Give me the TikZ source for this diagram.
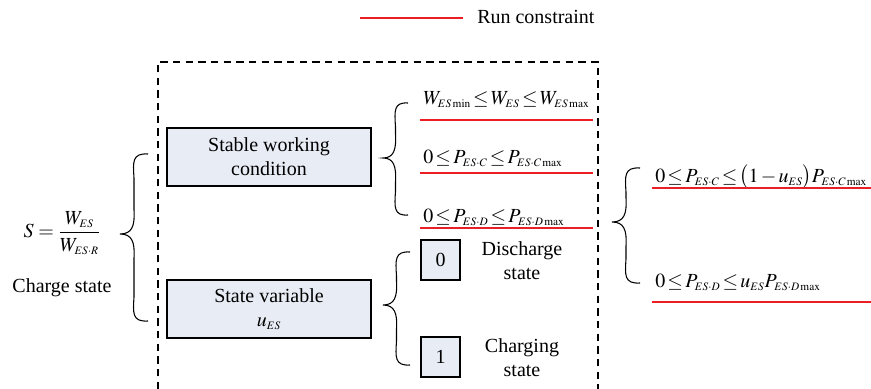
\documentclass[tikz,border=0pt]{standalone}
\usepackage{amsmath}
\usepackage{mathptmx}
\usepackage[no-math]{fontspec}
\setmainfont{Liberation Serif}
\usepackage{tikz}
\DeclareMathSizes{15}{15}{8.5}{7}

\definecolor{boxfill}{RGB}{232,236,244}
\definecolor{runred}{RGB}{235,30,35}

\newcommand{\tightmath}{\thickmuskip=2mu\relax\medmuskip=2mu\relax}

\tikzset{
  statebox/.style={draw, fill=boxfill, line width=1.1pt, align=center, inner sep=0pt},
  eqnode/.style={anchor=west, inner sep=0pt, execute at begin node=\tightmath},
  runline/.style={runred, line width=0.9pt},
  braceline/.style={line width=0.8pt},
  frameline/.style={line width=0.8pt, dash pattern=on 5.5pt off 4pt}
}

% curly brace: tip x, end x, top y, tip y, bottom y
\newcommand{\drawbrace}[5]{%
  \draw[braceline] (#2,#3)
    .. controls ({(#1+#2)/2-2},{#3-1}) and ({(#1+#2)/2-1},{#3+8}) .. ({(#1+#2)/2},{#3+24})
    -- ({(#1+#2)/2},{#4-24})
    .. controls ({(#1+#2)/2+1},{#4-8}) and ({(#1+#2)/2-2},{#4}) .. (#1,#4)
    .. controls ({(#1+#2)/2-2},{#4}) and ({(#1+#2)/2+1},{#4+8}) .. ({(#1+#2)/2},{#4+24})
    -- ({(#1+#2)/2},{#5-24})
    .. controls ({(#1+#2)/2-1},{#5-8}) and ({(#1+#2)/2-2},{#5+1}) .. (#2,#5);}

\begin{document}
\begin{tikzpicture}[x=0.75pt, y=-0.75pt, font=\rmfamily\fontsize{15}{18}\selectfont]
  \useasboundingbox (0,0) rectangle (871,389);

  % legend
  \coordinate (lgA) at (360,18);
  \coordinate (lgB) at (463,18);
  \draw[runline] (lgA) -- (lgB);
  \node[anchor=west, inner sep=0pt] (lgtext) at (477,17) {Run constraint};

  % dashed frame, open at the bottom
  \draw[frameline] (158,389) -- (158,62) -- (598,62) -- (598,389);

  % left part
  \node (soc) at (62,233) {$S=\dfrac{W_{ES}}{W_{ES\cdot R}}$};
  \node (soctext) at (62,288) {Charge state};
  \drawbrace{120}{148}{154}{234}{321}

  % boxes
  \node[statebox, minimum width=153pt, minimum height=43.5pt] (stable) at (269,157)
    {Stable working\\condition};
  \node[statebox, minimum width=153pt, minimum height=43.5pt] (statevar) at (269,309)
    {State variable\\$u_{ES}$};
  \node[statebox, minimum width=29pt, minimum height=30pt] (zero) at (440.5,260) {0};
  \node[statebox, minimum width=29pt, minimum height=30pt] (one) at (440.5,357) {1};
  \node[align=center] (dis) at (522,261) {Discharge\\state};
  \node[align=center] (cha) at (522,358) {Charging\\state};

  % constraints of the working condition
  \drawbrace{383}{408}{103}{158}{215}
  \node[eqnode] (eqW) at (423,100)
    {$W_{ES\,\mathrm{min}}\le W_{ES}\le W_{ES\,\mathrm{max}}$};
  \node[eqnode] (eqPC) at (423,158)
    {$0\le P_{ES\cdot C}\le P_{ES\cdot C\,\mathrm{max}}$};
  \node[eqnode] (eqPD) at (423,217)
    {$0\le P_{ES\cdot D}\le P_{ES\cdot D\,\mathrm{max}}$};
  \draw[runline] (420,120) -- (593,120);
  \draw[runline] (420,173) -- (593,173);
  \draw[runline] (420,228) -- (593,228);

  % state variable
  \drawbrace{383}{410}{252}{305}{365}

  % combined constraints
  \drawbrace{612}{640}{168}{222}{283}
  \node[eqnode] (eqRC) at (655,177)
    {$0\le P_{ES\cdot C}\le\bigl(1-u_{ES}\bigr)P_{ES\cdot C\,\mathrm{max}}$};
  \node[eqnode] (eqRD) at (655,282)
    {$0\le P_{ES\cdot D}\le u_{ES}P_{ES\cdot D\,\mathrm{max}}$};
  \draw[runline] (652,188) -- (871,188);
  \draw[runline] (652,302) -- (871,302);
\end{tikzpicture}
\end{document}
